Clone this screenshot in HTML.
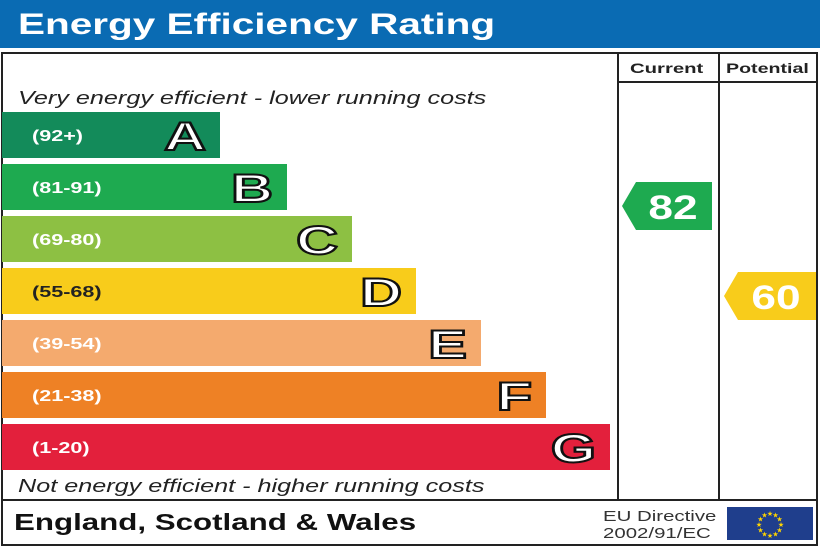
<!DOCTYPE html>
<html><head><meta charset="utf-8"><style>
body{margin:0;background:#fff;font-family:"Liberation Sans",sans-serif}
</style></head><body>
<svg width="820" height="547" viewBox="0 0 820 547" xmlns="http://www.w3.org/2000/svg">
<rect x="0" y="0" width="820" height="48" fill="#0a6bb3"/>
<text class="st" data-f="1.35" x="18" y="34" font-family="Liberation Sans" font-weight="bold" font-size="30" fill="#fff">Energy Efficiency Rating</text>
<rect x="2" y="53" width="815" height="492" fill="none" stroke="#222" stroke-width="2"/>
<line x1="618" y1="53" x2="618" y2="500" stroke="#222" stroke-width="2"/>
<line x1="719" y1="53" x2="719" y2="500" stroke="#222" stroke-width="2"/>
<line x1="618" y1="82" x2="817" y2="82" stroke="#222" stroke-width="2"/>
<line x1="2" y1="500" x2="817" y2="500" stroke="#222" stroke-width="2"/>
<text class="st" data-f="1.45" x="630" y="73" font-weight="bold" font-size="14" fill="#222">Current</text>
<text class="st" data-f="1.4" x="726" y="73" font-weight="bold" font-size="14" fill="#222">Potential</text>
<text class="st" data-f="1.4" x="18" y="104" font-style="italic" font-size="18" fill="#222">Very energy efficient - lower running costs</text>
<text class="st" data-f="1.4" x="18" y="492" font-style="italic" font-size="18" fill="#222">Not energy efficient - higher running costs</text>
<text class="st" data-f="1.36" x="14" y="530" font-weight="bold" font-size="23" fill="#111">England, Scotland &amp; Wales</text>
<text class="st" data-f="1.36" x="603" y="521" font-size="15" fill="#333">EU Directive</text>
<text class="st" data-f="1.36" x="603" y="538" font-size="15" fill="#333">2002/91/EC</text>
<rect x="727" y="507" width="86" height="33" fill="#1f3e8c"/>
<g id="stars"></g>
<g id="bars"></g>
<g id="arrows"></g>
</svg>
<script>
const letters=["A","B","C","D","E","F","G"];
const ranges=["(92+)","(81-91)","(69-80)","(55-68)","(39-54)","(21-38)","(1-20)"];
const bandWidths=[218,285,350,414,479,544,608];
const colors=["#138b5a","#1eaa50","#8dc043","#f8cc1b","#f4aa6e","#ee8125","#e3203c"];
const currentValue=82, potentialValue=60;
const ns="http://www.w3.org/2000/svg";
function mk(t,a){const e=document.createElementNS(ns,t);for(const k in a)e.setAttribute(k,a[k]);return e;}
const bars=document.getElementById('bars');
const bandY=i=>112+i*52;
letters.forEach((L,i)=>{
 const y=bandY(i);
 const r=mk('rect',{x:2,y:y,width:bandWidths[i],height:46,fill:colors[i]});
 
 
 bars.appendChild(r);
 const t=mk('text',{x:32,y:y+29,'font-family':'Liberation Sans','font-weight':'bold','font-size':16,fill:(i===3?'#222':'#fff'),class:'st','data-f':'1.35'});
 t.textContent=ranges[i];
 
 
 bars.appendChild(t);
 const l=mk('text',{x:2+bandWidths[i]-14,y:y+38,'text-anchor':'end','font-family':'Liberation Sans','font-weight':'bold','font-size':40,fill:'#fff',stroke:'#111','stroke-width':2,class:'st','data-f':'1.45'});
 l.textContent=L;
 
 
 bars.appendChild(l);
});
function bandOf(v){return v>=92?0:v>=81?1:v>=69?2:v>=55?3:v>=39?4:v>=21?5:6;}
const valY=v=>182+(82-v)*4.09;
const arrows=document.getElementById('arrows');
function arrow(v,x0,x1,name){
 const y=valY(v),h=48;
 const p=mk('polygon',{points:`${x0},${y+h/2} ${x0+14},${y} ${x1},${y} ${x1},${y+h} ${x0+14},${y+h}`,fill:colors[bandOf(v)]});
 
 
 arrows.appendChild(p);
 const t=mk('text',{x:(x0+x1)/2+6,y:y+37,'text-anchor':'middle','font-family':'Liberation Sans','font-weight':'bold','font-size':34,fill:'#fff',class:'st','data-f':'1.3'});
 t.textContent=v;
 
 
 arrows.appendChild(t);
}
arrow(currentValue,622,712,'current');
arrow(potentialValue,724,816,'potential');
const stars=document.getElementById('stars');
for(let i=0;i<12;i++){const a=i*Math.PI/6;
 const s=mk('text',{x:770+11*Math.cos(a),y:527+11*Math.sin(a),'text-anchor':'middle','font-size':7,fill:'#ffd500'});
 s.textContent='★';
 
 
 stars.appendChild(s);}
document.querySelectorAll('.st').forEach(e=>{
 const w=e.getComputedTextLength()*parseFloat(e.getAttribute('data-f'));
 e.setAttribute('textLength',w.toFixed(1));
 e.setAttribute('lengthAdjust','spacingAndGlyphs');
});
</script>
</body></html>
